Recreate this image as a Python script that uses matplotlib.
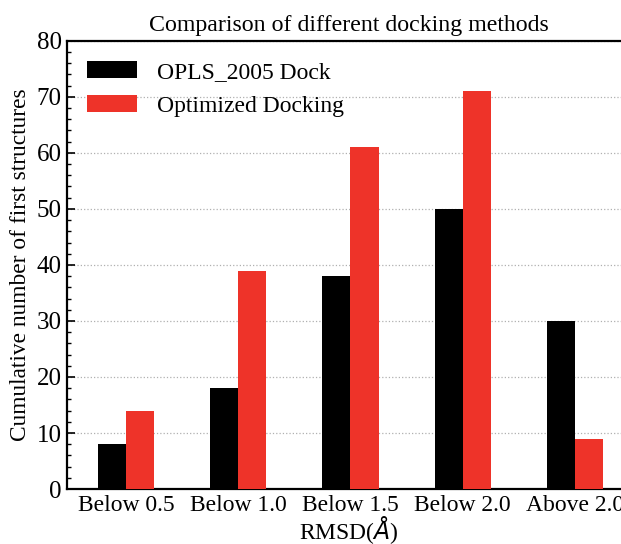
import numpy as np
import matplotlib
matplotlib.use("Agg")
import matplotlib.pyplot as plt
from matplotlib.ticker import MultipleLocator

categories = ["Below 0.5", "Below 1.0", "Below 1.5", "Below 2.0", "Above 2.0"]
opls = [8, 18, 38, 50, 30]
optimized = [14, 39, 61, 71, 9]

plt.rcParams["font.family"] = ["Liberation Serif", "DejaVu Serif"]
plt.rcParams["mathtext.fontset"] = "dejavusans"

fig = plt.figure(figsize=(6.21, 5.44), dpi=100)
# axes run past the right edge, as in the cropped original
ax = fig.add_axes([0.108, 0.101, 0.908, 0.824])

x = np.arange(len(categories))
w = 0.25
ax.bar(x - w / 2, opls, w, color="black", label="OPLS_2005 Dock", zorder=3)
ax.bar(x + w / 2, optimized, w, color="#ee3329", label="Optimized Docking", zorder=3)

ax.set_xlim(-0.526, 4.5)
ax.set_ylim(0, 80)
ax.set_xticks(x)
ax.set_xticklabels(categories, fontsize=17)
ax.yaxis.set_major_locator(MultipleLocator(10))
ax.yaxis.set_minor_locator(MultipleLocator(2))
ax.tick_params(axis="y", which="major", direction="in", length=6, width=1.2, labelsize=18, pad=4)
ax.tick_params(axis="y", which="minor", direction="in", length=3, width=1)
ax.tick_params(axis="x", which="both", length=0, pad=4)
ax.grid(axis="y", linestyle=":", color="#b0b0b0", linewidth=0.9, zorder=0)
for s in ax.spines.values():
    s.set_linewidth(1.6)

ax.set_title("Comparison of different docking methods", fontsize=17.2, pad=7)
ax.set_ylabel("Cumulative number of first structures", fontsize=16.8, labelpad=4)
ax.set_xlabel(r"RMSD($\mathit{\AA}$)", fontsize=17, labelpad=-1)

ax.legend(loc="upper left", frameon=False, fontsize=17, handlelength=2.12,
          handleheight=0.72, handletextpad=0.85, labelspacing=0.5,
          borderaxespad=0.0, bbox_to_anchor=(0.019, 0.975))

fig.savefig("out.png", dpi=100)
